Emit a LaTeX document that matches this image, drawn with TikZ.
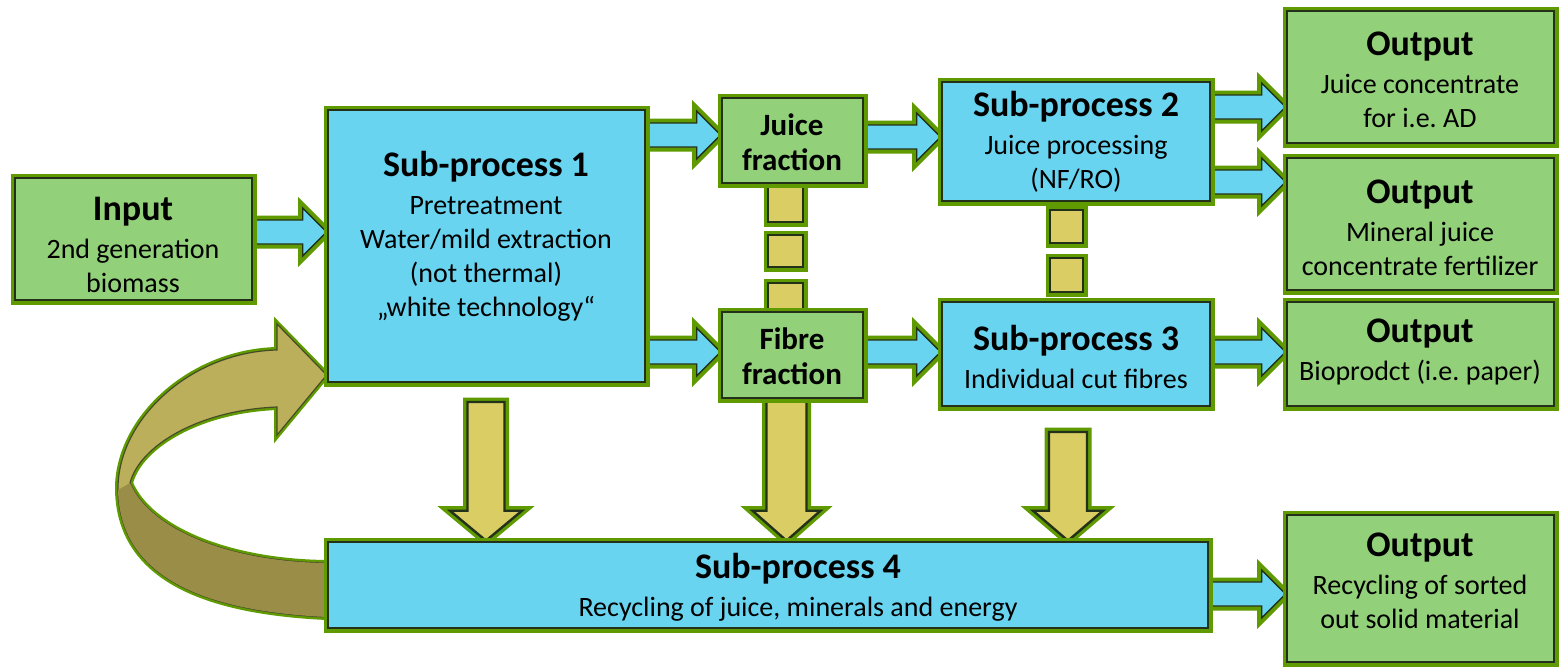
\documentclass[tikz,border=0pt]{standalone}
\usepackage{fontspec}
\setmainfont{Carlito}
\frenchspacing
\usetikzlibrary{calc,fit}
\pgfdeclarelayer{bg}
\pgfsetlayers{bg,main}
\definecolor{bluefill}{HTML}{68D4F0}
\definecolor{greenfill}{HTML}{92D07A}
\definecolor{yellowfill}{HTML}{D9CD64}
\definecolor{glowgreen}{HTML}{5E9A00}
\definecolor{edgedark}{HTML}{23301A}
\definecolor{olivelight}{HTML}{BBAF5C}
\definecolor{olivedark}{HTML}{9A8D48}
\tikzset{
  glow/.style={preaction={draw=glowgreen, line width=4.5pt}},
  boxbase/.style={glow, draw=edgedark, line width=1.3pt, inner sep=0pt},
  bluebox/.style={boxbase, fill=bluefill},
  greenbox/.style={boxbase, fill=greenfill},
  txt/.style={align=center, font=\fontsize{14}{17}\selectfont, inner sep=0pt},
  fractxt/.style={align=center, font=\fontsize{15.5}{17.5}\selectfont\bfseries, inner sep=0pt},
  blockarrow/.style={glow, draw=edgedark, line width=0.7pt, fill=bluefill, line join=miter},
  yarrow/.style={glow, draw=edgedark, line width=1.2pt, fill=yellowfill, line join=miter},
  ybox/.style={glow, draw=edgedark, line width=1.2pt, fill=yellowfill},
  loopupper/.style={preaction={draw=glowgreen, line width=3pt}, draw=edgedark!70!olivedark, line width=0.6pt, fill=olivelight},
  looplower/.style={fill=olivedark},
}
\newcommand\ttl[1]{{\fontsize{18}{18}\selectfont\bfseries #1}\\[2pt]}
% horizontal block arrow: #1 start point, #2 end point (same y)
\newcommand\hblock[2]{%
  \path[blockarrow] let \p1=(#1), \p2=(#2) in
    (\x1,\y1+6pt) -- (\x2-12pt,\y1+6pt) -- (\x2-12pt,\y1+12pt) -- (\x2,\y1)
    -- (\x2-12pt,\y1-12pt) -- (\x2-12pt,\y1-6pt) -- (\x1,\y1-6pt) -- cycle;}
% vertical block arrow: #1 start, #2 end (y taken), #3 shaft half, #4 head half
\newcommand\vblock[4]{%
  \path[yarrow] let \p1=(#1), \p2=(#2) in
    (\x1-#3,\y1) -- (\x1-#3,\y2+15pt) -- (\x1-#4,\y2+15pt) -- (\x1,\y2)
    -- (\x1+#4,\y2+15pt) -- (\x1+#3,\y2+15pt) -- (\x1+#3,\y1) -- cycle;}
\begin{document}
\begin{tikzpicture}[x=0.5pt, y=-0.5pt]
\useasboundingbox (0,0) rectangle (1559,670);

% boxes
\node[greenbox, fit={(15,178)(252,300)}] (input) {};
\node[bluebox, fit={(328,110)(645,382)}] (sp1) {};
\node[greenbox, fit={(722,98)(863,183)}] (juice) {};
\node[greenbox, fit={(722,312)(863,398)}] (fibre) {};
\node[bluebox, fit={(942,82)(1210,201)}] (sp2) {};
\node[bluebox, fit={(942,302)(1210,406)}] (sp3) {};
\node[bluebox, fit={(328,542)(1208,628)}] (sp4) {};
\node[greenbox, fit={(1287,11)(1554,143)}] (out1) {};
\node[greenbox, fit={(1287,158)(1554,290)}] (out2) {};
\node[greenbox, fit={(1287,302)(1554,406)}] (out3) {};
\node[greenbox, fit={(1287,515)(1554,662)}] (out4) {};

% texts
\node[txt] (inputt) at (133,245) {\ttl{Input}2nd generation\\biomass};
\node[txt] (sp1t) at (486,236) {\ttl{Sub-process 1}Pretreatment\\Water/mild extraction\\(not thermal)\\„white technology“};
\node[fractxt] (juicet) at (792,142) {Juice\\fraction};
\node[fractxt] (fibret) at (792,356) {Fibre\\fraction};
\node[txt] (sp2t) at (1076,142) {\ttl{Sub-process 2}Juice processing\\(NF/RO)};
\node[txt] (sp3t) at (1076,357) {\ttl{Sub-process 3}Individual cut fibres};
\node[txt] (sp4t) at (798,587) {\ttl{Sub-process 4}Recycling of juice, minerals and energy};
\node[txt] (out1t) at (1420,80) {\ttl{Output}Juice concentrate\\for i.e. AD};
\node[txt] (out2t) at (1420,228) {\ttl{Output}Mineral juice\\concentrate fertilizer};
\node[txt] (out3t) at (1420,352) {\ttl{Output}Bioprodct (i.e. paper)};
\node[txt] (out4t) at (1420,581) {\ttl{Output}Recycling of sorted\\out solid material};

\coordinate (d1) at (486,402);
\coordinate (d3) at (1068,432);

\begin{pgfonlayer}{bg}
  % blue block arrows
  \hblock{input.east |- 0,232}{sp1.west |- 0,232}
  \hblock{sp1.east |- 0,135}{juice.west |- 0,135}
  \hblock{sp1.east |- 0,352}{fibre.west |- 0,352}
  \hblock{juice.east |- 0,137}{sp2.west |- 0,137}
  \hblock{fibre.east |- 0,352}{sp3.west |- 0,352}
  \hblock{sp2.east |- 0,107}{out1.west |- 0,107}
  \hblock{sp2.east |- 0,182}{out2.west |- 0,182}
  \hblock{sp3.east |- 0,352}{out3.west |- 0,352}
  \hblock{sp4.east |- 0,594}{out4.west |- 0,594}
  % yellow down arrows
  \vblock{d1}{sp4.north}{9.25pt}{18pt}
  \vblock{[xshift=-3pt]fibre.south}{sp4.north}{10pt}{17pt}
  \vblock{d3}{sp4.north}{9.5pt}{17.5pt}
  % yellow dashed links
  \draw[ybox] (768,183) rectangle (803,222);
  \draw[ybox] (768,235) rectangle (803,267);
  \draw[ybox] (768,283) rectangle (803,312);
  \draw[ybox] (1050,210) rectangle (1083,243);
  \draw[ybox] (1050,258) rectangle (1083,292);
  % recycling loop arrow from sp4 back to sp1
  \path[loopupper] (sp4.west |- 0,617) .. controls (220,612) and (120,585) .. (118,490)
     .. controls (117,420) and (190,352) .. (277,350)
     -- (277,324) -- (sp1.south west |- 0,375) -- (277,435) -- (277,407)
     .. controls (200,410) and (140,445) .. (130,483)
     .. controls (150,530) and (230,562) .. (sp4.west |- 0,563) -- cycle;
  \path[looplower] (130,483) .. controls (150,530) and (230,562) .. (sp4.west |- 0,563)
     -- (sp4.west |- 0,617) .. controls (220,612) and (120,585) .. (118,490) -- cycle;
\end{pgfonlayer}
\end{tikzpicture}
\end{document}
